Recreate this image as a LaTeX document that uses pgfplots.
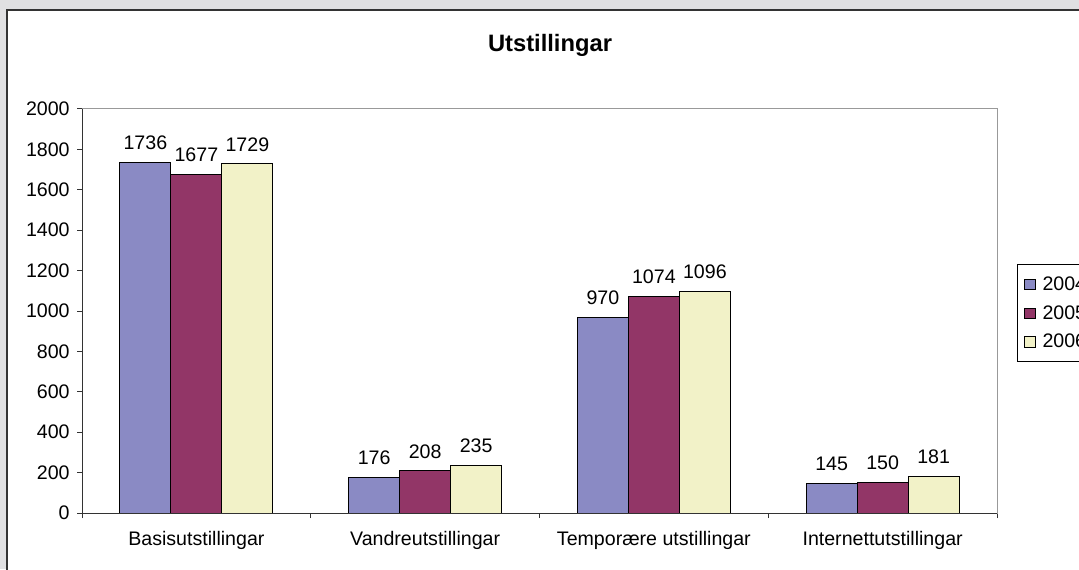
\documentclass[border=0pt]{standalone}
\usepackage{fontspec}
\setmainfont{Liberation Sans}
\usepackage{pgfplots}
\pgfplotsset{compat=1.18}
\definecolor{bg}{HTML}{E0E0E2}
\definecolor{frame}{HTML}{333333}
\definecolor{c2004}{HTML}{8A8AC4}
\definecolor{c2005}{HTML}{923667}
\definecolor{c2006}{HTML}{F2F2C8}
\definecolor{boxgray}{HTML}{999999}
\newcommand{\lblfont}{\fontsize{14.7}{17}\selectfont}

\begin{document}
\begin{tikzpicture}
\useasboundingbox (0,0) rectangle (809.25pt,426.75pt);
\clip (0,0) rectangle (809.25pt,426.75pt);
\fill[bg] (0,0) rectangle (809.25pt,426.75pt);
\draw[fill=white, draw=frame, line width=1.5pt] (5.25pt,-5pt) rectangle (820pt,419.25pt);
\node[font=\fontsize{17.8}{20}\selectfont\bfseries, anchor=base, inner sep=0pt] at (412.5pt,387.75pt) {Utstillingar};
\begin{axis}[
  at={(61.5pt,42pt)}, anchor=south west,
  scale only axis, width=686.25pt, height=303pt,
  ybar=0pt, bar width=38.25pt,
  xmin=-0.5, xmax=3.5, ymin=0, ymax=2000,
  xtick={0,1,2,3},
  xticklabels={Basisutstillingar,Vandreutstillingar,Temporære utstillingar,Internettutstillingar},
  minor xtick={-0.5,0.5,1.5,2.5,3.5},
  ytick={0,200,...,2000},
  tick align=outside, tick pos=left,
  major tick length=3.75pt, minor tick length=3.75pt,
  x tick style={draw=frame, line width=0.75pt},
  minor x tick style={draw=frame, line width=0.75pt},
  y tick style={draw=frame, line width=0.75pt},
  every major x tick/.style={draw=none},
  axis line style={draw=boxgray, line width=0.75pt},
  /pgf/number format/assume math mode=true,
  /pgf/number format/1000 sep={},
  yticklabel style={font=\lblfont, xshift=-2pt},
  xticklabel style={font=\lblfont, yshift=-6.5pt},
  nodes near coords,
  nodes near coords style={font=\lblfont, anchor=south, yshift=5.7pt},
  legend style={at={(1.0219,0.6163)}, anchor=north west, draw=black, line width=0.75pt, fill=white,
    font=\lblfont, inner xsep=2pt, inner ysep=7pt, row sep=5.9pt,
    nodes={inner sep=2pt}},
  legend cell align=left,
  legend image code/.code={\path (0pt,0pt) (14pt,0pt);\draw[#1, draw=black, line width=0.5pt] (3pt,-4pt) rectangle (11pt,4pt);},
]
\addplot[fill=c2004, draw=black, line width=0.75pt] coordinates {(0,1736) (1,176) (2,970) (3,145)};
\addplot[fill=c2005, draw=black, line width=0.75pt] coordinates {(0,1677) (1,208) (2,1074) (3,150)};
\addplot[fill=c2006, draw=black, line width=0.75pt] coordinates {(0,1729) (1,235) (2,1096) (3,181)};
\legend{2004,2005,2006}
\draw[frame, line width=0.75pt] (rel axis cs:0,1) -- (rel axis cs:0,0) -- (rel axis cs:1,0);
\end{axis}
\end{tikzpicture}
\end{document}
